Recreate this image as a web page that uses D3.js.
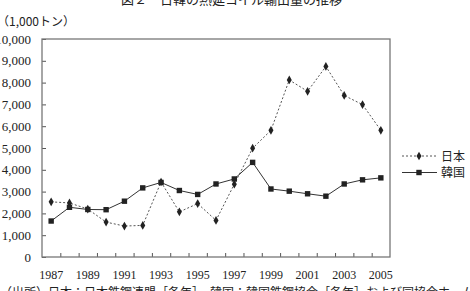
<!DOCTYPE html>
<html>
<head>
<meta charset="utf-8">
<script src="https://cdn.jsdelivr.net/npm/d3@7"></script>
<style>
  body { margin: 0; background: #fff; }
  svg { display: block; }
  text { font-family: "Liberation Serif", "Noto Sans CJK JP", serif; fill: #222; }
  .cjk { font-family: "Noto Sans CJK JP", sans-serif; }
</style>
</head>
<body>
<div id="chart"></div>
<script>
const years = d3.range(1987, 2006)
const yearLabels = [1987, 1989, 1991, 1993, 1995, 1997, 1999, 2001, 2003, 2005]
const yTicks = [0, 1000, 2000, 3000, 4000, 5000, 6000, 7000, 8000, 9000, 10000]
const japan = [2530, 2480, 2200, 1600, 1420, 1450, 3440, 2070, 2450, 1680, 3340, 4990, 5810, 8120, 7600, 8740, 7410, 6990, 5810]
const korea = [1650, 2280, 2180, 2170, 2560, 3170, 3420, 3050, 2870, 3350, 3580, 4340, 3120, 3020, 2900, 2790, 3350, 3540, 3630]
const seriesNames = ["日本", "韓国"]

const width = 470, height = 291
const margin = {left: 42, top: 39, right: 80, bottom: 34}

const svg = d3.select("#chart").append("svg")
    .attr("width", width)
    .attr("height", height)

const x = d3.scaleBand().domain(years).range([margin.left, width - margin.right]).padding(0)
const xEdge = d3.scaleLinear().domain([0, years.length]).range([margin.left, width - margin.right])
const y = d3.scaleLinear().domain([0, 10000]).range([height - margin.bottom, margin.top])

// title (mostly cut off at the top)
svg.append("text").attr("class", "cjk")
    .attr("x", 121).attr("y", 4)
    .style("font-size", "13px")
    .text("図２　日韓の熱延コイル輸出量の推移")

// unit label
svg.append("text").attr("class", "cjk")
    .attr("x", -3).attr("y", 26)
    .style("font-size", "12px")
    .text("（1,000トン）")

// y axis
const yAxis = svg.append("g")
    .attr("transform", `translate(${margin.left},0)`)
    .call(d3.axisLeft(y).tickValues(yTicks).tickSize(-4).tickPadding(11).tickFormat(d3.format(",")))
yAxis.select(".domain").remove()
yAxis.selectAll("line").attr("stroke", "#555")
yAxis.selectAll("text").style("font-size", "13px").attr("fill", "#222")

// x axis ticks at category boundaries
const xTickAxis = svg.append("g")
    .attr("transform", `translate(0,${y(0)})`)
    .call(d3.axisBottom(xEdge).tickValues(d3.range(1, years.length)).tickSize(-4).tickFormat(""))
xTickAxis.select(".domain").remove()
xTickAxis.selectAll("line").attr("stroke", "#555")

const xAxis = svg.append("g")
    .attr("transform", `translate(0,${y(0)})`)
    .call(d3.axisBottom(x).tickValues(yearLabels).tickSize(0).tickPadding(13))
xAxis.select(".domain").remove()
xAxis.selectAll("text").style("font-size", "12px").attr("fill", "#222")

// frame
svg.append("rect")
    .attr("x", margin.left).attr("y", margin.top)
    .attr("width", width - margin.right - margin.left)
    .attr("height", y(0) - margin.top)
    .attr("fill", "none").attr("stroke", "#777").attr("stroke-width", 1.3)

const cx = d => x(d) + x.bandwidth() / 2
const line = d3.line().x((d, i) => cx(years[i])).y(d => y(d))

// Japan
svg.append("path").datum(japan)
    .attr("d", line).attr("fill", "none")
    .attr("stroke", "#555").attr("stroke-width", 1).attr("stroke-dasharray", "2,2")
svg.append("g").selectAll("path").data(japan).join("path")
    .attr("transform", (d, i) => `translate(${cx(years[i])},${y(d)})`)
    .attr("d", d3.symbol(d3.symbolDiamond, 22))
    .attr("fill", "#222")

// Korea
svg.append("path").datum(korea)
    .attr("d", line).attr("fill", "none")
    .attr("stroke", "#333").attr("stroke-width", 1)
svg.append("g").selectAll("rect").data(korea).join("rect")
    .attr("x", (d, i) => cx(years[i]) - 2.7).attr("y", d => y(d) - 2.7)
    .attr("width", 5.4).attr("height", 5.4)
    .attr("fill", "#222")

// legend
const legend = svg.append("g")
seriesNames.forEach((name, i) => {
    const ly = 156 + i * 16.5
    legend.append("line")
        .attr("x1", 402).attr("x2", 437).attr("y1", ly).attr("y2", ly)
        .attr("stroke", i ? "#333" : "#555")
        .attr("stroke-dasharray", i ? null : "2,2")
    if (i) {
        legend.append("rect").attr("x", 416.3).attr("y", ly - 2.7).attr("width", 5.4).attr("height", 5.4).attr("fill", "#222")
    } else {
        legend.append("path").attr("transform", `translate(419,${ly})`)
            .attr("d", d3.symbol(d3.symbolDiamond, 22)).attr("fill", "#222")
    }
    legend.append("text").attr("class", "cjk")
        .attr("x", 441).attr("y", ly + 4.5)
        .style("font-size", "12px")
        .text(name)
})

// source note (cut off at the bottom)
svg.append("text").attr("class", "cjk")
    .attr("x", 0).attr("y", 297)
    .style("font-size", "12px")
    .text("（出所）日本：日本鉄鋼連盟［各年］，韓国：韓国鉄鋼協会［各年］および同協会ホームページ")
</script>
</body>
</html>
